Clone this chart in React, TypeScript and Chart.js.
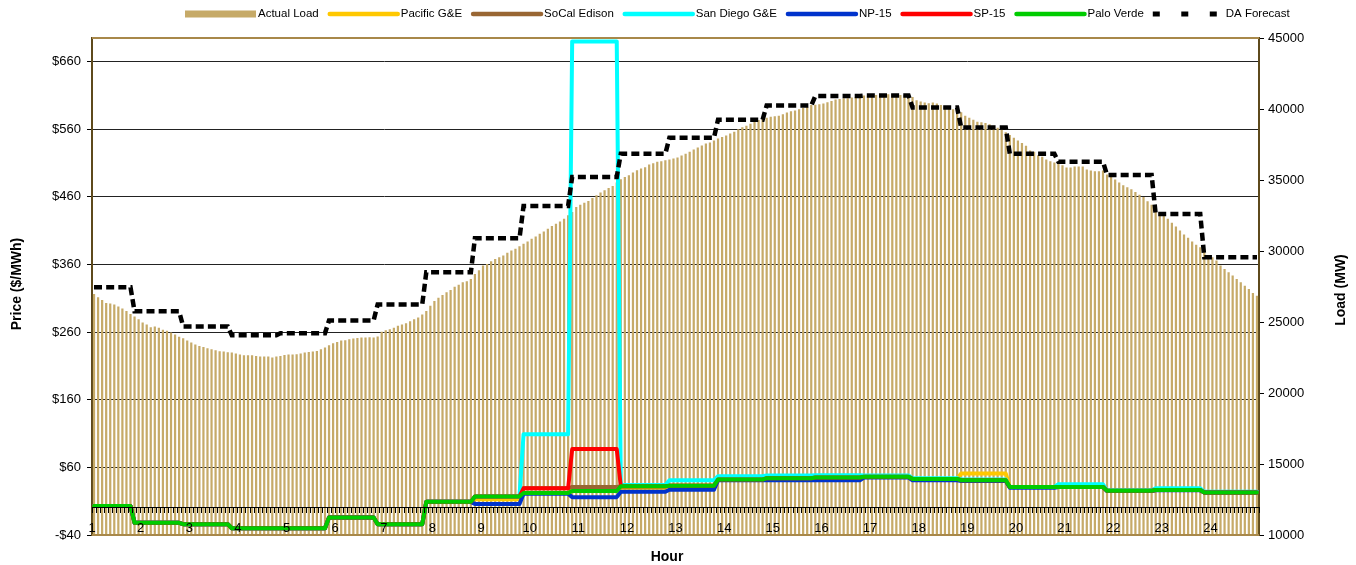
import { useEffect, useRef } from 'react';
import { Chart, registerables } from 'chart.js';

Chart.register(...registerables);

// ---------- DATA ----------
const hourLabels = ['1', '2', '3', '4', '5', '6', '7', '8', '9', '10', '11', '12', '13', '14', '15', '16', '17', '18', '19', '20', '21', '22', '23', '24'];

// Actual load, 5-minute intervals (MW)
const actualLoad = [
  26970, 26736, 26545, 26333, 26310, 26240, 26098, 25957, 25768, 25556,
  25391, 25202, 24967, 24826, 24636, 24685, 24588, 24447, 24376, 24259,
  24118, 23953, 23859, 23694, 23553, 23412, 23318, 23247, 23151, 23081,
  23010, 22939, 22916, 22869, 22846, 22775, 22704, 22656, 22656, 22656,
  22608, 22563, 22563, 22563, 22492, 22563, 22608, 22680, 22704, 22704,
  22727, 22775, 22846, 22893, 22916, 22963, 23081, 23200, 23364, 23505,
  23597, 23694, 23717, 23788, 23835, 23882, 23906, 23906, 23930,
  23906, 23976, 24306, 24424, 24495, 24588, 24730, 24826, 24919, 25060,
  25202, 25321, 25533, 25768, 26144, 26475, 26710, 26899, 27089, 27253,
  27489, 27630, 27797, 27867, 28030, 28384, 28644, 28974, 29091, 29282,
  29444, 29563, 29681, 29868, 30034, 30152, 30342, 30505, 30669, 30859,
  31022, 31212, 31375, 31566, 31756, 31919, 32082, 32273, 32509, 32745,
  33100, 33262, 33404, 33522, 33734, 33920, 34111, 34275, 34443, 34585,
  34818, 35051, 35220, 35334, 35525, 35688, 35808, 35900, 36091, 36182,
  36281, 36324, 36395, 36444, 36515,
  36586, 36727, 36845, 36986, 37151, 37293, 37434, 37576, 37646, 37788,
  37929, 38024, 38141, 38283, 38400, 38566, 38707, 38826, 38967, 39084,
  39226, 39343, 39391, 39462, 39485, 39532, 39626, 39745, 39838, 39886,
  39980, 40072, 40143, 40284, 40308, 40333, 40380, 40475, 40568, 40666,
  40709, 40758, 40758, 40804, 40851, 40874, 40945, 40945, 40992, 40992,
  41040, 41040, 41040, 41040, 41040, 40992, 40992, 40992, 40851, 40616,
  40524, 40453, 40404, 40453, 40380, 40284, 40166, 40050, 39980, 39862,
  39768, 39532, 39391, 39250, 39108,
  39061,
  39014, 38919, 38826, 38685, 38543, 38354, 38166, 37977, 37788, 37599,
  37411, 37080, 36986, 36750, 36633, 36444, 36324, 36232, 36162, 36042,
  35879, 35879, 35950, 35950, 35950, 35737, 35667, 35620, 35620, 35667,
  35384, 35220, 35030, 34818, 34628, 34485, 34344, 34157, 33970, 33806,
  33498, 33262, 32980, 32697, 32509, 32273, 31990, 31731, 31445, 31163,
  30929, 30669, 30434, 30270, 30010, 29681, 29563, 29325, 28974, 28737,
  28502, 28266, 28030, 27797, 27560, 27323, 27040, 26852,
];

// Hourly values
const daForecast = [27450, 25750, 24690, 24070, 24210, 25110, 26240, 28500, 30900, 33170, 35220, 36850, 37980, 39250, 40240, 40920, 40950, 40100, 38690, 36850, 36280, 35360, 32600, 29560];
const pacificGE = [3, -22, -24, -30, -30, -14, -24, 9, 13, 22, 26, 30, 33, 42, 44, 45, 46, 43, 51, 31, 31, 25.5, 26.5, 23];
const socalEdison = [3, -22, -24, -30, -30, -14, -24, 9, 17, 29, 31, 32, 33, 42, 44, 45, 46, 43, 41, 31, 31, 25.5, 26.5, 23];
const sanDiegoGE = [3, -22, -24, -30, -30, -14, -24, 9, 17, 109, 690, 34, 41, 47, 48, 48.5, 48, 44, 42, 31, 35, 26, 29, 24];
const np15 = [3, -22, -24, -30, -30, -14, -24, 9, 6, 21, 16, 24, 27, 41, 41, 41, 45, 41, 40, 30, 31, 25, 26, 23];
const sp15 = [3, -22, -24, -30, -30, -14, -24, 9, 17, 29, 87, 32, 33, 42, 44, 45, 46, 43, 41, 31, 31, 25.5, 26.5, 23];
const paloVerde = [3, -22, -24, -30, -30, -14, -24, 9, 17, 22, 25, 32, 33, 42, 44, 45, 46, 43, 41, 31, 31, 25.5, 26.5, 23];

const priceTicks = [-40, 60, 160, 260, 360, 460, 560, 660];
const loadTicks = [10000, 15000, 20000, 25000, 30000, 35000, 40000, 45000];

const seriesNames = ['Actual Load', 'Pacific G&E', 'SoCal Edison', 'San Diego G&E', 'NP-15', 'SP-15', 'Palo Verde', 'DA Forecast'];
const seriesColors = ['#C6AA68', '#FFC800', '#996633', '#00FFFF', '#0033CC', '#FF0000', '#00CC00', '#000000'];

const xTitle = 'Hour';
const yTitle = 'Price ($/MWh)';
const y2Title = 'Load (MW)';

// ---------- BUILD ----------
const FONT = '"Liberation Sans", Arial, sans-serif';
const FRAME_COLOR = '#A8884A';
const AXIS_BROWN = '#5E4A1C';
const PER_HOUR = 12;

const categories = actualLoad.map((_, i) => (i % PER_HOUR === 0 ? hourLabels[i / PER_HOUR] : ''));
const expand = (hourly: number[]) =>
  actualLoad.map((_, i) => hourly[Math.min(hourly.length - 1, Math.floor((i + 2) / PER_HOUR))]);

const lineDs = (k: number, hourly: number[], order: number) => ({
  type: 'line' as const,
  label: seriesNames[k],
  data: expand(hourly),
  yAxisID: 'y',
  borderColor: seriesColors[k],
  backgroundColor: seriesColors[k],
  borderWidth: 4,
  pointRadius: 0,
  tension: 0,
  borderJoinStyle: 'round' as const,
  borderCapStyle: 'round' as const,
  order,
});

const decorPlugin = {
  id: 'decor',
  afterDraw(chart: any) {
    const { ctx, chartArea: a } = chart;
    ctx.save();
    ctx.strokeStyle = FRAME_COLOR;
    ctx.lineWidth = 2;
    ctx.beginPath();
    ctx.moveTo(a.left, a.top);
    ctx.lineTo(a.right, a.top);
    ctx.moveTo(a.left, a.bottom);
    ctx.lineTo(a.right, a.bottom);
    ctx.stroke();

    ctx.fillStyle = '#000';
    ctx.font = `bold 14px ${FONT}`;
    ctx.textAlign = 'center';
    ctx.textBaseline = 'middle';
    ctx.fillText(xTitle, 667, 557);
    ctx.save();
    ctx.translate(17, 284);
    ctx.rotate(-Math.PI / 2);
    ctx.fillText(yTitle, 0, 0);
    ctx.restore();
    ctx.save();
    ctx.translate(1341, 290);
    ctx.rotate(-Math.PI / 2);
    ctx.fillText(y2Title, 0, 0);
    ctx.restore();

    // legend
    ctx.font = `11.5px ${FONT}`;
    ctx.textAlign = 'left';
    let x = 185;
    const y = 14;
    seriesNames.forEach((name, k) => {
      const color = seriesColors[k];
      if (k === 0) {
        ctx.fillStyle = color;
        ctx.fillRect(x, y - 3.5, 71, 7);
      } else if (k === seriesNames.length - 1) {
        ctx.fillStyle = color;
        for (let j = 0; j < 3; j++) ctx.fillRect(x + j * 28.5, y - 2.5, 7, 5);
      } else {
        ctx.strokeStyle = color;
        ctx.lineWidth = 4.5;
        ctx.lineCap = 'round';
        ctx.beginPath();
        ctx.moveTo(x + 2, y);
        ctx.lineTo(x + 70, y);
        ctx.stroke();
      }
      ctx.fillStyle = '#000';
      ctx.fillText(name, x + 73, y);
      x += 73 + ctx.measureText(name).width + 9;
    });
    ctx.restore();
  },
};

export default function App() {
  const ref = useRef<HTMLCanvasElement>(null);
  useEffect(() => {
    if (!ref.current) return;
    const chart = new Chart(ref.current, {
      type: 'bar',
      data: {
        labels: categories,
        datasets: [
          {
            type: 'bar',
            label: seriesNames[0],
            data: actualLoad,
            yAxisID: 'y2',
            backgroundColor: seriesColors[0],
            barPercentage: 0.55,
            categoryPercentage: 1,
            order: 10,
          },
          lineDs(1, pacificGE, 8),
          lineDs(2, socalEdison, 7),
          lineDs(3, sanDiegoGE, 6),
          lineDs(4, np15, 5),
          lineDs(5, sp15, 4),
          lineDs(6, paloVerde, 3),
          {
            type: 'line',
            label: seriesNames[7],
            data: expand(daForecast),
            yAxisID: 'y2',
            borderColor: seriesColors[7],
            backgroundColor: seriesColors[7],
            borderWidth: 4.5,
            borderDash: [8, 4.15],
            pointRadius: 0,
            tension: 0,
            order: 2,
          },
        ] as any,
      },
      options: {
        responsive: false,
        maintainAspectRatio: false,
        animation: false,
        devicePixelRatio: 1,
        layout: { padding: { top: 38, bottom: 30, left: 0, right: 0 } },
        font: { family: FONT } as any,
        plugins: { legend: { display: false }, tooltip: { enabled: false }, title: { display: false } },
        scales: {
          x: {
            type: 'category',
            position: { y: 0 } as any,
            offset: true,
            grid: { display: true, drawOnChartArea: false, drawTicks: true, tickLength: 5, color: '#000', offset: true, z: 1 },
            border: { display: true, color: '#000', width: 1, z: 1 },
            ticks: { z: 1, autoSkip: false, maxRotation: 0, minRotation: 0, padding: 8, labelOffset: -2, font: { size: 13, family: FONT }, color: '#000' },
          },
          y: {
            position: 'left',
            min: -40,
            max: 695,
            afterBuildTicks: (s: any) => { s.ticks = priceTicks.map((v) => ({ value: v })); },
            afterFit: (s: any) => { s.width = 92; },
            grid: { color: '#222', lineWidth: 1, drawTicks: true, tickLength: 5, tickColor: '#000' },
            border: { display: true, color: AXIS_BROWN, width: 2 },
            ticks: {
              padding: 6,
              font: { size: 13, family: FONT },
              color: '#000',
              callback: (v: any) => (v < 0 ? '-$' + Math.abs(v) : '$' + v),
            },
          },
          y2: {
            position: 'right',
            min: 10000,
            max: 45000,
            afterBuildTicks: (s: any) => { s.ticks = loadTicks.map((v) => ({ value: v })); },
            afterFit: (s: any) => { s.width = 97; },
            grid: { drawOnChartArea: false, drawTicks: true, tickLength: 5, tickColor: '#000' },
            border: { display: true, color: AXIS_BROWN, width: 2 },
            ticks: { padding: 4, font: { size: 13, family: FONT }, color: '#000', callback: (v: any) => String(v) },
          },
        },
      } as any,
      plugins: [decorPlugin],
    });
    return () => chart.destroy();
  }, []);
  return (
    <div style={{ position: 'absolute', left: 0, top: 0, width: 1356, height: 565 }}>
      <canvas ref={ref} width={1356} height={565} style={{ display: 'block' }} />
    </div>
  );
}
